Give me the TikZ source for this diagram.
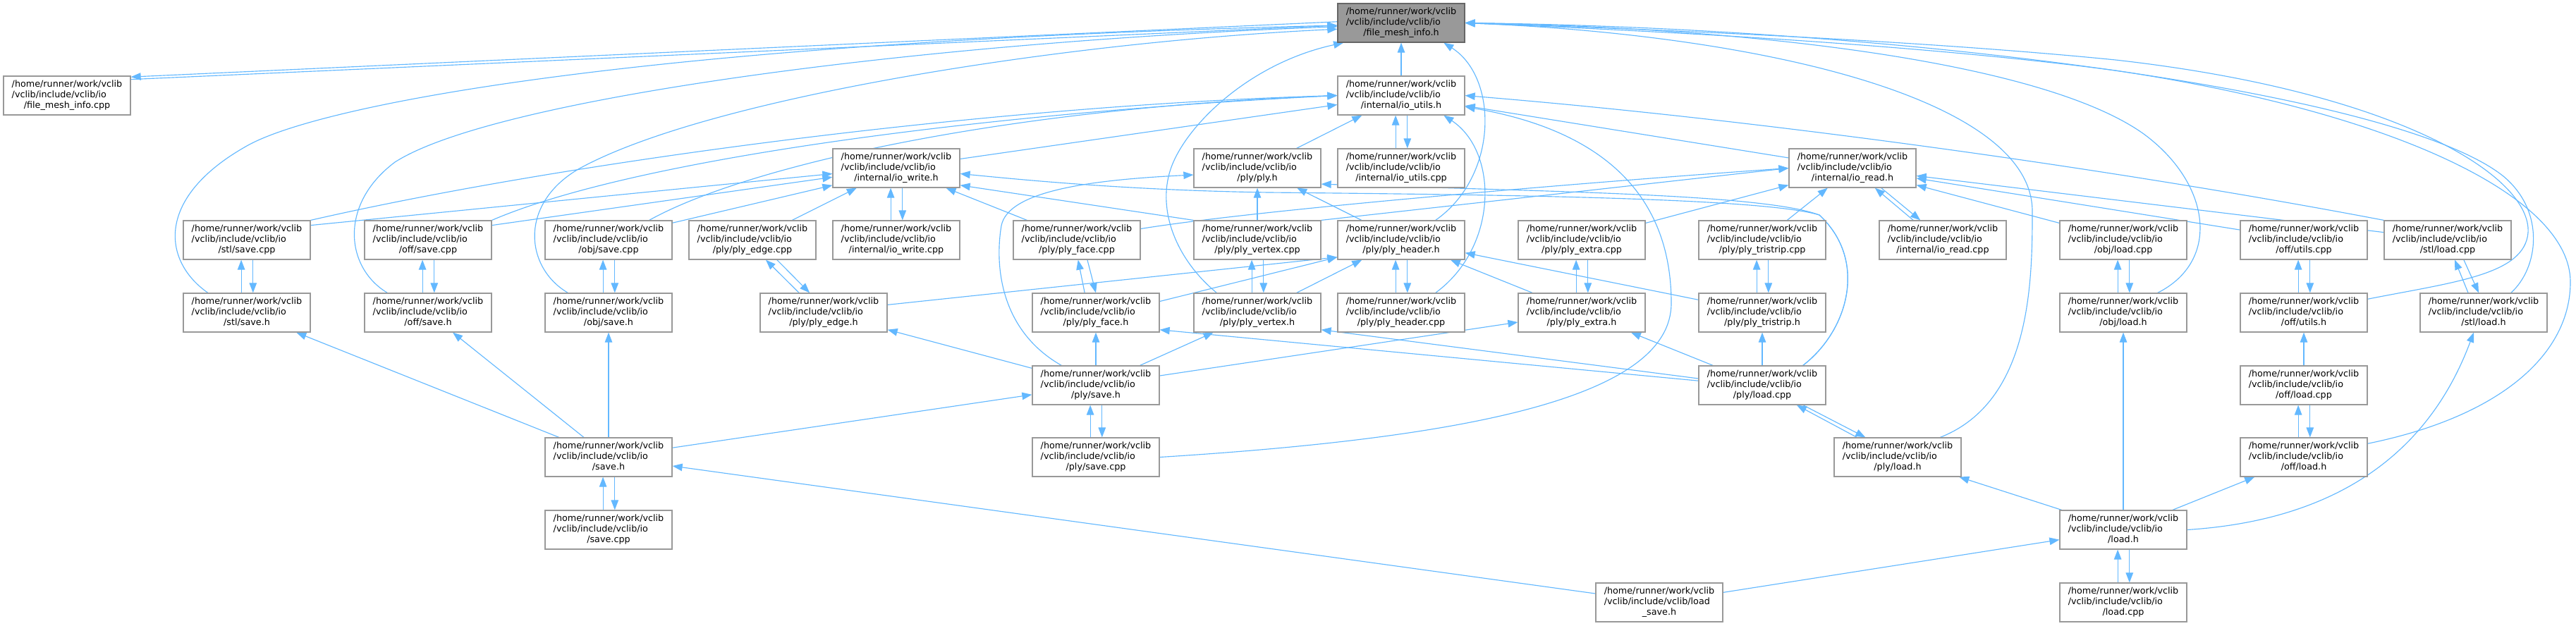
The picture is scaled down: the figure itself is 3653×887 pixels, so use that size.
\documentclass[tikz,border=0pt]{standalone}
\usepackage{fontspec}
\setmainfont{DejaVu Sans}
\usetikzlibrary{arrows.meta,backgrounds}
\definecolor{incblue}{RGB}{99,184,255}
\definecolor{boxgray}{RGB}{153,153,153}
\definecolor{curgray}{RGB}{102,102,102}
\newcommand{\fpath}[2][/vclib/include/vclib/io]{%
  \begin{tabular}{@{}l@{}}/home/runner/work/vclib\\#1\\\multicolumn{1}{@{}c@{}}{#2}\end{tabular}}
\tikzset{
  file/.style={draw=boxgray,fill=white,line width=0.7pt,minimum width=3.6cm,
    minimum height=1.1cm,inner sep=0pt,font=\fontsize{7.26}{8.5}\selectfont},
  curfile/.style={file,fill=boxgray,draw=curgray},
  inc/.style={draw=incblue,line width=0.65pt,-{Triangle[length=8pt,width=6pt]}}
}

\begin{document}
\begin{tikzpicture}[x=0.02cm,y=-0.02cm]
\useasboundingbox (0,0) rectangle (3653,887);
\node[curfile] (fmih) at (1987,32.5) {\fpath{/file\_mesh\_info.h}};
\node[file] (fmicpp) at (95,135.5) {\fpath{/file\_mesh\_info.cpp}};
\node[file] (utilsh) at (1987,135.5) {\fpath{/internal/io\_utils.h}};
\node[file] (writeh) at (1271,238.5) {\fpath{/internal/io\_write.h}};
\node[file] (plyh) at (1783,238.5) {\fpath{/ply/ply.h}};
\node[file] (utilscpp) at (1987,238.5) {\fpath{/internal/io\_utils.cpp}};
\node[file] (readh) at (2627,238.5) {\fpath{/internal/io\_read.h}};
\node[file] (stlsavecpp) at (350,340.5) {\fpath{/stl/save.cpp}};
\node[file] (offsavecpp) at (607,340.5) {\fpath{/off/save.cpp}};
\node[file] (objsavecpp) at (863,340.5) {\fpath{/obj/save.cpp}};
\node[file] (edgecpp) at (1067,340.5) {\fpath{/ply/ply\_edge.cpp}};
\node[file] (writecpp) at (1271,340.5) {\fpath{/internal/io\_write.cpp}};
\node[file] (facecpp) at (1527,340.5) {\fpath{/ply/ply\_face.cpp}};
\node[file] (vtxcpp) at (1783,340.5) {\fpath{/ply/ply\_vertex.cpp}};
\node[file] (hdrh) at (1987,340.5) {\fpath{/ply/ply\_header.h}};
\node[file] (extracpp) at (2243,340.5) {\fpath{/ply/ply\_extra.cpp}};
\node[file] (tricpp) at (2499,340.5) {\fpath{/ply/ply\_tristrip.cpp}};
\node[file] (readcpp) at (2755,340.5) {\fpath{/internal/io\_read.cpp}};
\node[file] (objloadcpp) at (3011,340.5) {\fpath{/obj/load.cpp}};
\node[file] (offutilscpp) at (3267,340.5) {\fpath{/off/utils.cpp}};
\node[file] (stlloadcpp) at (3471,340.5) {\fpath{/stl/load.cpp}};
\node[file] (stlsaveh) at (350,443.5) {\fpath{/stl/save.h}};
\node[file] (offsaveh) at (607,443.5) {\fpath{/off/save.h}};
\node[file] (objsaveh) at (863,443.5) {\fpath{/obj/save.h}};
\node[file] (edgeh) at (1168,443.5) {\fpath{/ply/ply\_edge.h}};
\node[file] (faceh) at (1554,443.5) {\fpath{/ply/ply\_face.h}};
\node[file] (vtxh) at (1783,443.5) {\fpath{/ply/ply\_vertex.h}};
\node[file] (hdrcpp) at (1987,443.5) {\fpath{/ply/ply\_header.cpp}};
\node[file] (extrah) at (2243,443.5) {\fpath{/ply/ply\_extra.h}};
\node[file] (trih) at (2499,443.5) {\fpath{/ply/ply\_tristrip.h}};
\node[file] (objloadh) at (3011,443.5) {\fpath{/obj/load.h}};
\node[file] (offutilsh) at (3267,443.5) {\fpath{/off/utils.h}};
\node[file] (stlloadh) at (3522,443.5) {\fpath{/stl/load.h}};
\node[file] (plysaveh) at (1554,546.5) {\fpath{/ply/save.h}};
\node[file] (plyloadcpp) at (2499,546.5) {\fpath{/ply/load.cpp}};
\node[file] (offloadcpp) at (3267,546.5) {\fpath{/off/load.cpp}};
\node[file] (saveh) at (863,648.5) {\fpath{/save.h}};
\node[file] (plysavecpp) at (1554,648.5) {\fpath{/ply/save.cpp}};
\node[file] (plyloadh) at (2691,648.5) {\fpath{/ply/load.h}};
\node[file] (offloadh) at (3267,648.5) {\fpath{/off/load.h}};
\node[file] (savecpp) at (863,751.5) {\fpath{/save.cpp}};
\node[file] (loadh) at (3011,751.5) {\fpath{/load.h}};
\node[file] (loadsaveh) at (2353,854.5) {\fpath[/vclib/include/vclib/load]{\_save.h}};
\node[file] (loadcpp) at (3011,854.5) {\fpath{/load.cpp}};

\begin{scope}[on background layer]
\foreach \lo/\up in {utilscpp/utilsh,writecpp/writeh,stlsaveh/stlsavecpp,offsaveh/offsavecpp,
  objsaveh/objsavecpp,vtxh/vtxcpp,hdrcpp/hdrh,extrah/extracpp,trih/tricpp,objloadh/objloadcpp,
  offutilsh/offutilscpp,plysavecpp/plysaveh,offloadh/offloadcpp,savecpp/saveh,loadcpp/loadh}{
  \draw[inc] ([xshift=-4.5pt]\lo.north) -- ([xshift=-4.5pt]\up.south);
  \draw[inc] ([xshift=5pt]\up.south) -- ([xshift=5pt]\lo.north);
}
\foreach \a/\b in {utilsh/fmih,writeh/utilsh,readh/utilsh,plyh/utilsh,hdrh/plyh,vtxcpp/plyh,
  vtxh/hdrh,extrah/hdrh,trih/hdrh,tricpp/readh,extracpp/readh,objloadcpp/readh,
  offutilscpp/readh,stlloadcpp/readh,edgecpp/writeh,facecpp/writeh,
  saveh/stlsaveh,saveh/offsaveh,saveh/objsaveh,saveh/plysaveh,loadsaveh/saveh,loadsaveh/loadh,
  loadh/plyloadh,loadh/objloadh,loadh/offloadh,plysaveh/faceh,plysaveh/vtxh,plysaveh/edgeh,
  plysaveh/extrah,plyloadcpp/trih,plyloadcpp/extrah,offloadcpp/offutilsh}{
  \draw[inc] (\a) -- (\b);
}
\draw[inc] ([yshift=-3pt]fmicpp.north east) -- ([yshift=-2pt]fmih.west);
\draw[inc] ([yshift=1pt]fmih.west) -- ([yshift=-1pt]fmicpp.north east);
\draw[inc] ([xshift=-23.8pt]readcpp.north) -- ([xshift=18.1pt]readh.south);
\draw[inc] ([xshift=23.2pt]readh.south) -- ([xshift=-18.1pt]readcpp.north);
\draw[inc] ([xshift=-19.8pt]edgeh.north) -- ([xshift=10.8pt]edgecpp.south);
\draw[inc] ([xshift=19.8pt]edgecpp.south) -- ([xshift=-11.3pt]edgeh.north);
\draw[inc] ([xshift=-9pt]faceh.north) -- ([xshift=1pt]facecpp.south);
\draw[inc] ([xshift=8.5pt]facecpp.south) -- (faceh.north);
\draw[inc] ([xshift=-12.5pt]stlloadh.north) -- ([xshift=5.7pt]stlloadcpp.south);
\draw[inc] ([xshift=13pt]stlloadcpp.south) -- ([xshift=-4pt]stlloadh.north);
\draw[inc] ([xshift=-32.9pt]plyloadh.north) -- ([xshift=27.8pt]plyloadcpp.south);
\draw[inc] ([xshift=32.9pt]plyloadcpp.south) -- ([xshift=-26pt]plyloadh.north);
\draw[inc] (stlsavecpp.13) -- (writeh.185);
\draw[inc] (offsavecpp.13) -- (writeh.188);
\draw[inc] (objsavecpp.15) -- (writeh.195);
\draw[inc] (vtxcpp.north west) -- (writeh.-15);
\draw[inc] (vtxcpp.north east) -- (readh.west);
\draw[inc] (facecpp.10) .. controls (1800,295) and (2300,255) .. (readh.west);
\draw[inc] (edgeh.7) -- (hdrh.195);
\draw[inc] (faceh.10) -- (hdrh.195);
\draw[inc] (plyloadcpp.174) -- (vtxh.-15);
\draw[inc] (plyloadcpp.176) -- (faceh.-15);
\draw[inc] (stlsavecpp.north east) .. controls (800,230) and (1400,150) .. (utilsh.west);
\draw[inc] (offsavecpp.north east) .. controls (900,225) and (1400,160) .. (utilsh.west);
\draw[inc] (objsavecpp.26) .. controls (1050,240) and (1400,155) .. (utilsh.west);
\draw[inc] (stlloadcpp.north west) .. controls (3000,240) and (2500,170) .. (utilsh.east);
\draw[inc] (hdrcpp.30) .. controls (2125,350) and (2125,215) .. (utilsh.-25);
\draw[inc] (plysavecpp.east) .. controls (2100,620) and (2370,560) .. (2370,430)
  .. controls (2370,300) and (2300,190) .. (utilsh.-10);
\draw[inc] (hdrh.30) .. controls (2125,250) and (2125,110) .. (fmih.-25);
\draw[inc] (stlsaveh.153) .. controls (230,370) and (220,280) .. (350,207)
  .. controls (450,150) and (900,60) .. ([yshift=-2pt]fmih.west);
\draw[inc] (offsaveh.154) .. controls (490,380) and (480,290) .. (560,230)
  .. controls (700,140) and (1300,60) .. ([yshift=-3pt]fmih.west);
\draw[inc] (objsaveh.154) .. controls (745,380) and (735,290) .. (820,240)
  .. controls (1000,140) and (1500,60) .. ([yshift=-5pt]fmih.west);
\draw[inc] (vtxh.154) .. controls (1670,370) and (1640,300) .. (1660,240)
  .. controls (1680,180) and (1770,90) .. ([xshift=5pt]fmih.south west);
\draw[inc] (plyloadh.25) .. controls (2880,570) and (2882,400) .. (2882,300)
  .. controls (2882,140) and (2500,50) .. (fmih.east);
\draw[inc] (objloadh.30) .. controls (3150,370) and (3135,260) .. (3040,190)
  .. controls (2900,90) and (2500,40) .. (fmih.east);
\draw[inc] (offutilsh.12) .. controls (3480,400) and (3580,390) .. (3585,330)
  .. controls (3590,250) and (3400,130) .. (3000,85)
  .. controls (2700,55) and (2300,40) .. (fmih.east);
\draw[inc] (stlloadh.36) .. controls (3600,380) and (3610,300) .. (3550,250)
  .. controls (3400,130) and (2700,40) .. (fmih.east);
\draw[inc] (offloadh.12) .. controls (3550,590) and (3645,500) .. (3645,400)
  .. controls (3645,280) and (3400,160) .. (3000,100)
  .. controls (2700,60) and (2300,42) .. (fmih.east);
\draw[inc] (plysaveh.150) .. controls (1420,470) and (1410,380) .. (1420,320)
  .. controls (1430,270) and (1550,255) .. (plyh.186);
\draw[inc] (plyloadcpp.26) .. controls (2620,470) and (2650,370) .. (2580,305)
  .. controls (2500,275) and (2200,272) .. (plyh.-14);
\draw[inc] (plyloadcpp.26) .. controls (2620,470) and (2650,370) .. (2580,305)
  .. controls (2500,280) and (2100,276) .. (1800,273)
  .. controls (1600,270) and (1450,255) .. (writeh.-5);
\draw[inc] (loadh.east) .. controls (3360,735) and (3460,600) .. ([xshift=-8pt]stlloadh.south);
\end{scope}
\end{tikzpicture}
\end{document}
